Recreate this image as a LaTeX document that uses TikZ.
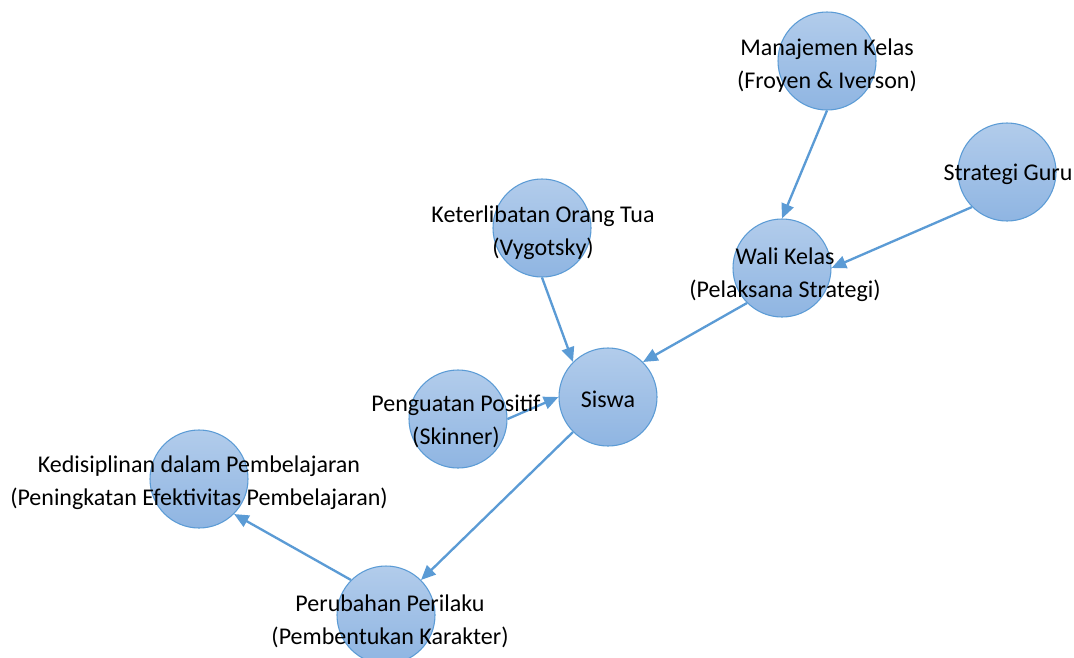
\documentclass[tikz,border=0pt]{standalone}
\usepackage{fontspec}
\setmainfont{Carlito}
\usepackage{tikz}
\usetikzlibrary{arrows.meta}
\definecolor{wcline}{RGB}{091,155,213}
\definecolor{wctop}{RGB}{178,204,235}
\definecolor{wcbot}{RGB}{143,181,226}
\tikzset{
  concept/.style = {circle, draw=wcline, line width=0.8pt, top color=wctop, bottom color=wcbot,
                    inner sep=0pt, minimum size=73.5pt},
  caption/.style = {align=center, font=\fontsize{18}{24.75}\selectfont, inner sep=0pt},
  link/.style    = {-{Triangle[length=11pt,width=9.5pt]}, line width=1.75pt, draw=wcline}
}

\begin{document}
\begin{tikzpicture}[x=0.75pt, y=-0.75pt]
    % frame of the picture, in pixels of the reference
    \useasboundingbox (0,0) rectangle (1074,657);

    % circles
    \node[concept] (manajemen) at (827,61)  {};
    \node[concept] (strategi)  at (1007,172) {};
    \node[concept] (wali)      at (782,268) {};
    \node[concept] (orangtua)  at (542,228) {};
    \node[concept] (siswa)     at (608,397) {};
    \node[concept] (penguatan) at (458,419) {};
    \node[concept] (disiplin)  at (199,479) {};
    \node[concept] (perubahan) at (386,615) {};

    % connectors
    \draw[link] (manajemen.south)     -- (wali.north);
    \draw[link] (strategi.south west) -- (wali.east);
    \draw[link] (orangtua.south)      -- (siswa.north west);
    \draw[link] (wali.south west)     -- (siswa.north east);
    \draw[link] (penguatan.east)      -- (siswa.west);
    \draw[link] (siswa.south west)    -- (perubahan.north east);
    \draw[link] (perubahan.north west) -- (disiplin.south east);

    % texts (they run over the circles)
    \node[caption] (manajemen-t) at (827,66)  {Manajemen Kelas\\(Froyen \& Iverson)};
    \node[caption] (strategi-t)  at (1008,174) {Strategi Guru};
    \node[caption] (wali-t)      at (785,275) {Wali Kelas\\(Pelaksana Strategi)};
    \node[caption] (orangtua-t)  at (543,233) {Keterlibatan Orang Tua\\(Vygotsky)};
    \node[caption] (siswa-t)     at (608,399) {Siswa};
    \node[caption] (penguatan-t) at (456,421) {Penguatan Positif\\(Skinner)};
    \node[caption] (disiplin-t)  at (199,483) {Kedisiplinan dalam Pembelajaran\\(Peningkatan Efektivitas Pembelajaran)};
    \node[caption] (perubahan-t) at (390,621) {Perubahan Perilaku\\(Pembentukan Karakter)};
\end{tikzpicture}
\end{document}
